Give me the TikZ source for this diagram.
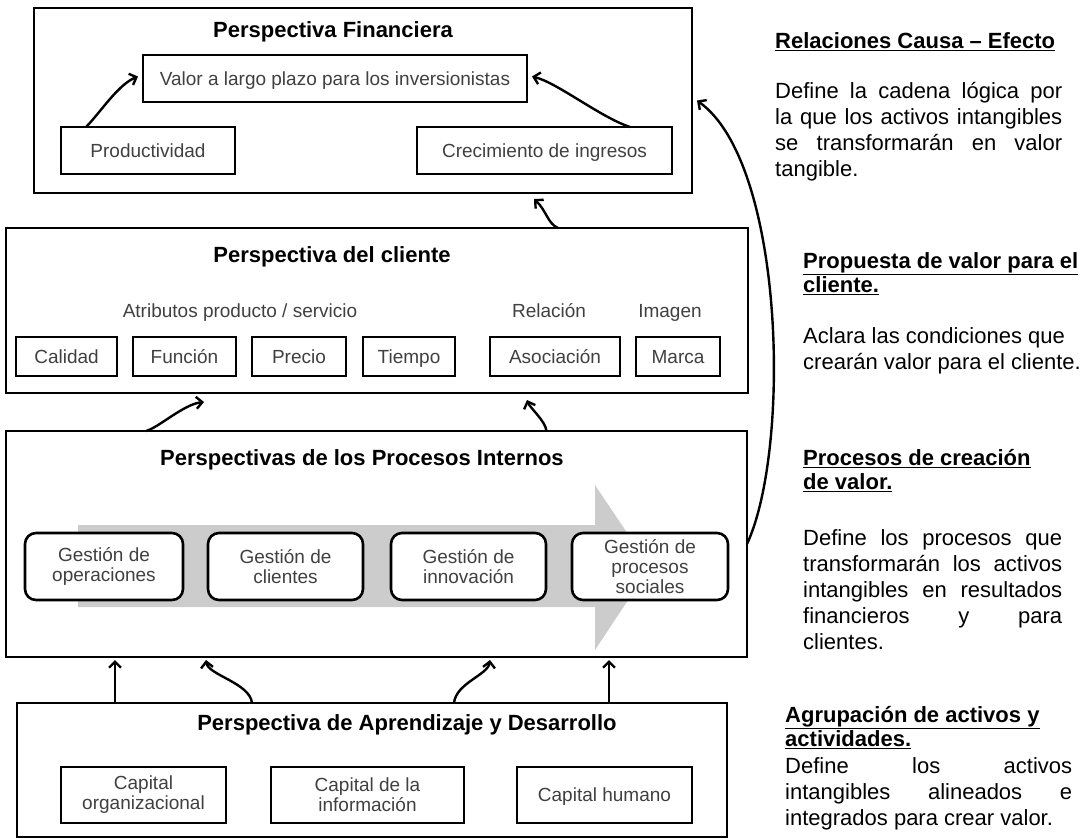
\documentclass[tikz,border=0pt]{standalone}
\usepackage{fontspec}
\setmainfont{Liberation Sans}
\usetikzlibrary{arrows.meta, positioning, calc}
\definecolor{arrowgray}{rgb}{0.80,0.80,0.80}
\definecolor{boxtext}{rgb}{0.25,0.25,0.25}
\newcommand{\boxfont}{\fontsize{19}{20}\selectfont}
\newcommand{\panelfont}{\fontsize{22}{24}\selectfont\bfseries}
\newcommand{\notefont}{\fontsize{22}{26}\selectfont}
\newcommand{\notehead}{\fontsize{22}{24}\selectfont\bfseries}
\newcommand{\fillline}[2]{\makebox[#1][s]{#2}}

\begin{document}
\begin{tikzpicture}[
    x=1pt, y=-1pt,
    panel/.style={draw, line width=2.6pt, inner sep=0pt, outer sep=0pt},
    item/.style={draw, line width=2.6pt, fill=white, align=center, font=\boxfont, text=boxtext, inner sep=0pt, outer sep=0pt},
    oneline/.style={text height=17.6pt, text depth=4pt},
    procbox/.style={item, rounded corners=11pt, minimum height=67pt},
    attr/.style={item, oneline, minimum height=39pt},
    capbox/.style={item, minimum height=56pt},
    paneltitle/.style={font=\panelfont, anchor=base},
    tag/.style={font=\boxfont, text=boxtext, anchor=base},
    note/.style={font=\notefont, anchor=north west, inner sep=0pt, align=left},
    link/.style={-{Straight Barb[length=6pt,width=12pt]}, line width=2.4pt}
]
    \useasboundingbox (0,0) rectangle (1089,839);

    % financial perspective
    \node[panel, minimum width=658pt, minimum height=185pt] (fin) at (363,100.5) {};
    \node[paneltitle] (fintitle) at (333,37.5) {Perspectiva Financiera};
    \node[item, oneline, minimum width=384pt, minimum height=47pt] (val) at (335,78.5) {Valor a largo plazo para los inversionistas};
    \node[item, oneline, minimum width=174pt, minimum height=47pt] (prod) at (148,150.5) {Productividad};
    \node[item, oneline, minimum width=255pt, minimum height=47pt] (crec) at (544.5,150.5) {Crecimiento de ingresos};

    % customer perspective
    \node[panel, minimum width=742pt, minimum height=165pt] (cli) at (377,310.5) {};
    \node[paneltitle] (clititle) at (332,262.5) {Perspectiva del cliente};
    \node[tag] (atrib) at (240,317) {Atributos producto / servicio};
    \node[tag] (relac) at (549,317) {Relación};
    \node[tag] (imagen) at (670,317) {Imagen};
    \node[attr, minimum width=101pt] (calidad) at (66.5,356.5) {Calidad};
    \node[attr, minimum width=103pt, right=16pt of calidad] (funcion) {Función};
    \node[attr, minimum width=94pt, right=16pt of funcion] (precio) {Precio};
    \node[attr, minimum width=92pt, right=17pt of precio] (tiempo) {Tiempo};
    \node[attr, minimum width=130pt, right=35pt of tiempo] (asoc) {Asociación};
    \node[attr, minimum width=84pt, right=16pt of asoc] (marca) {Marca};

    % internal processes
    \node[panel, minimum width=741pt, minimum height=226pt] (proc) at (376.5,544) {};
    \fill[arrowgray] (78,525) -- (595,525) -- (595,485) -- (650,567) -- (595,650) -- (595,607) -- (78,607) -- cycle;
    \node[paneltitle] (proctitle) at (362,465.5) {Perspectivas de los Procesos Internos};
    \node[procbox, minimum width=158pt] (oper) at (104,566.5) {Gestión de\\operaciones};
    \node[procbox, minimum width=155pt, right=25pt of oper] (clien) {Gestión de\\clientes};
    \node[procbox, minimum width=155pt, right=28pt of clien] (innov) {Gestión de\\innovación};
    \node[procbox, minimum width=156pt, right=26pt of innov] (social) {Gestión de\\procesos\\sociales};

    % learning and growth
    \node[panel, minimum width=710pt, minimum height=134pt] (apr) at (372,770) {};
    \node[paneltitle] (aprtitle) at (407,730.5) {Perspectiva de Aprendizaje y Desarrollo};
    \node[capbox, minimum width=165pt] (corg) at (143.5,795) {Capital\\organizacional};
    \node[capbox, minimum width=193pt, right=45pt of corg] (cinf) {Capital de la\\información};
    \node[capbox, oneline, minimum width=175pt, right=53pt of cinf] (chum) {Capital humano};

    % links
    \draw[link] ([xshift=25pt]prod.north west) .. controls +(14,-14) and +(-20,8) .. ([xshift=-5pt,yshift=2pt]val.west);
    \draw[link] ([xshift=-42pt]crec.north east) .. controls +(-30,-10) and +(25,6) .. ([xshift=5pt,yshift=2pt]val.east);
    \draw[link] ([xshift=181pt]cli.north) .. controls +(-10,-4) and +(12,11) .. ([xshift=171pt,yshift=-6pt]fin.south);
    \draw[link] ([xshift=-230.5pt]proc.north) .. controls +(12,-3) and +(-20,2) .. ([xshift=-173pt,yshift=-9pt]cli.south);
    \draw[link] ([xshift=170pt]proc.north) .. controls +(-1,-10) and +(3,8) .. ([xshift=150pt,yshift=-7pt]cli.south);
    \draw[link] (proc.east) .. controls +(44,-95) and +(88,63) .. ([xshift=5pt]fin.east);
    \draw[link] ([xshift=-257pt]apr.north) -- ([xshift=-261.5pt,yshift=-3pt]proc.south);
    \draw[link] ([xshift=-120pt]apr.north) .. controls +(-2,-20) and +(2,15) .. ([xshift=-170.5pt,yshift=-3pt]proc.south);
    \draw[link] ([xshift=82pt]apr.north) .. controls +(2,-20) and +(-2,15) .. ([xshift=113.5pt,yshift=-3pt]proc.south);
    \draw[link] ([xshift=237pt]apr.north) -- ([xshift=232.5pt,yshift=-3pt]proc.south);

    % side notes
    \node[note, font=\notehead] (head1) at (775,32) {\underline{Relaciones Causa – Efecto}};
    \node[note] (body1) at (775,82) {\fillline{287pt}{Define la cadena lógica por}\\
        \fillline{287pt}{la que los activos intangibles}\\ \fillline{287pt}{se transformarán en valor}\\ tangible.};
    \node[note, font=\notehead] (head2) at (803,252) {\underline{Propuesta de valor para el}\\ \underline{cliente.}};
    \node[note] (body2) at (803,327.5) {Aclara las condiciones que\\ crearán valor para el cliente.};
    \node[note, font=\notehead] (head3) at (803,449) {\underline{Procesos de creación}\\ \underline{de valor.}};
    \node[note] (body3) at (803,529) {\fillline{259pt}{Define los procesos que}\\
        \fillline{259pt}{transformarán los activos}\\ \fillline{259pt}{intangibles en resultados}\\
        \fillline{259pt}{financieros y para}\\ clientes.};
    \node[note, font=\notehead] (head4) at (785,706) {\underline{Agrupación de activos y}\\ \underline{actividades.}};
    \node[note] (body4) at (785,757) {\fillline{287pt}{Define los activos}\\
        \fillline{287pt}{intangibles alineados e}\\ integrados para crear valor.};
\end{tikzpicture}
\end{document}
